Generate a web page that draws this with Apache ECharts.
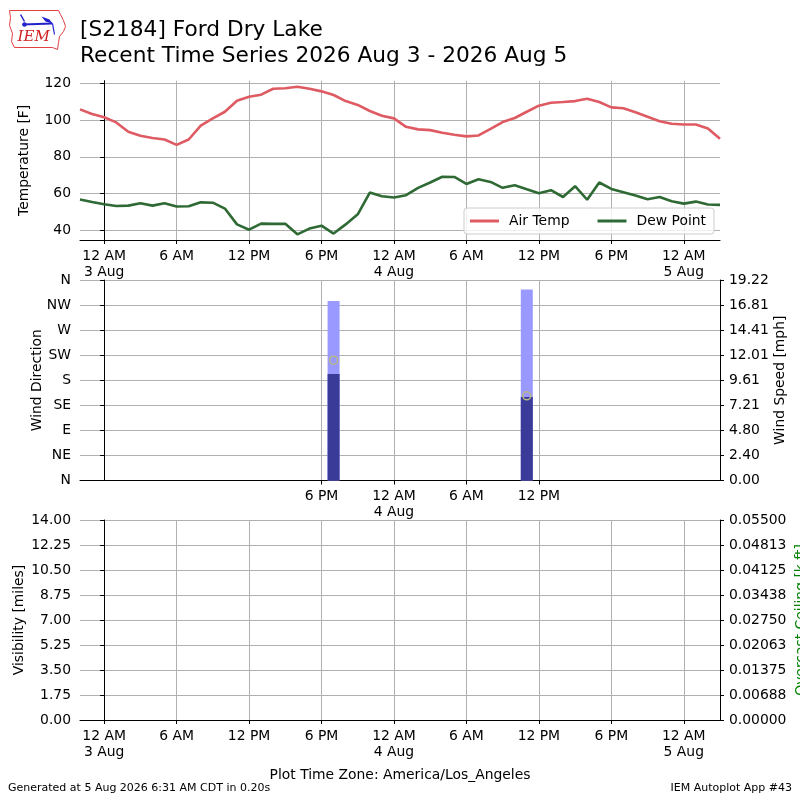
<!DOCTYPE html>
<html>
<head>
<meta charset="utf-8">
<script src="https://cdn.jsdelivr.net/npm/echarts@6/dist/echarts.min.js"></script>
<style>
html, body { margin: 0; padding: 0; background: #fff; }
#chart { width: 800px; height: 800px; }
</style>
</head>
<body>
<div id="chart"></div>
<script>
// hourly obs, first one at 2026-08-02 22:00 local (America/Los_Angeles)
var obsStart = '2026-08-02 22:00';
var tmpf = [105.8, 103.3,
	101.5, 98.7, 93.6, 91.4, 90.2, 89.4, 86.5, 89.4, 96.9, 100.9, 104.5, 110.5,
	112.7, 113.8, 117.0, 117.3, 118.1, 117.0, 115.6, 113.6, 110.3, 108.2, 104.9, 102.3,
	100.9, 96.3, 94.9, 94.5, 93.1, 92.0, 91.1, 91.6, 95.2, 98.9, 101.1, 104.5,
	107.8, 109.4, 109.8, 110.3, 111.6, 109.8, 106.9, 106.4, 104.2, 101.8, 99.3, 98.0,
	97.6, 97.6, 95.4, 89.8];
var dwpf = [56.7, 55.4,
	54.2, 53.2, 53.4, 54.7, 53.4, 54.7, 52.9, 53.1, 55.2, 55.0, 51.8, 43.2,
	40.3, 43.6, 43.5, 43.5, 37.8, 40.9, 42.5, 38.2, 43.2, 48.7, 60.5, 58.5,
	57.8, 59.1, 63.1, 66.0, 69.1, 69.0, 65.2, 67.8, 66.3, 63.1, 64.5, 62.3,
	60.2, 61.8, 58.1, 64.0, 56.6, 66.0, 62.5, 60.7, 58.9, 56.9, 58.1, 55.8,
	54.5, 55.6, 54.0, 53.8];

// wind obs
var windTimes = ['2026-08-03 19:00', '2026-08-04 11:00'];
var sped = [10.2, 8.0];
var gust = [17.2, 18.3];
var drct = [216, 152];

var dirLabels = ['N', 'NE', 'E', 'SE', 'S', 'SW', 'W', 'NW', 'N'];
var mainTicks = [0, 6, 12, 18, 24, 30, 36, 42, 48];
var windTicks = [18, 24, 30, 36];
var tempTicks = [40, 60, 80, 100, 120];

// hours since 2026-08-03 00:00
function toHours(s) {
	var p = s.split(/[- :]/);
	var t = Date.UTC(+p[0], +p[1] - 1, +p[2], +p[3], +p[4]);
	return (t - Date.UTC(2026, 7, 3)) / 3600000;
}

function timeLabel(v) {
	var h = Math.round(v);
	var hod = ((h % 24) + 24) % 24;
	var s = hod == 0 ? '12 AM' : (hod == 12 ? '12 PM' : (hod < 12 ? hod + ' AM' : (hod - 12) + ' PM'));
	if (hod == 0) {
		s += '\n' + (3 + Math.floor(h / 24)) + ' Aug';
	}
	return s;
}

var t0 = toHours(obsStart);
var tData = [], dData = [];
for (var i = 0; i < tmpf.length; i++) {
	tData.push([t0 + i, tmpf[i]]);
	dData.push([t0 + i, dwpf[i]]);
}
var gData = [], sData = [], drData = [];
for (var i = 0; i < windTimes.length; i++) {
	var h = toHours(windTimes[i]);
	gData.push([h, gust[i]]);
	sData.push([h, sped[i]]);
	drData.push([h, drct[i]]);
}

var FONT = 'DejaVu Sans';
var FS = 13.9;
var gridColor = '#b0b0b0';

function xAxisCfg(gridIndex, ticks, showGrid) {
	return {
		type: 'value', gridIndex: gridIndex, min: -2, max: 51,
		axisLine: { show: true, onZero: false, lineStyle: { color: '#000', width: 1 } },
		axisTick: { show: true, length: 4, customValues: ticks, lineStyle: { color: '#000' } },
		axisLabel: { customValues: ticks, formatter: timeLabel, color: '#000', fontFamily: FONT, fontSize: FS, margin: 8, lineHeight: 16 },
		splitLine: { show: showGrid, lineStyle: { color: gridColor, width: 1 } }
	};
}

function yAxisCfg(o) {
	var base = {
		type: 'value',
		axisLine: { show: true, lineStyle: { color: '#000', width: 1 } },
		axisTick: { show: true, length: 4, lineStyle: { color: '#000' } },
		axisLabel: { color: '#000', fontFamily: FONT, fontSize: FS, margin: 9 },
		splitLine: { show: true, lineStyle: { color: gridColor, width: 1 } },
		nameLocation: 'middle',
		nameRotate: 90,
		nameMoveOverlap: false,
		nameTextStyle: { color: '#000', fontFamily: FONT, fontSize: FS }
	};
	for (var k in o) {
		if (typeof o[k] == 'object' && base[k] && !Array.isArray(o[k])) {
			for (var kk in o[k]) base[k][kk] = o[k][kk];
		} else {
			base[k] = o[k];
		}
	}
	return base;
}

var myChart = echarts.init(document.getElementById('chart'));

var option = {
	backgroundColor: '#fff',
	animation: false,
	title: {
		text: '[S2184] Ford Dry Lake\nRecent Time Series 2026 Aug 3 - 2026 Aug 5',
		left: 75, top: 12,
		textStyle: { fontFamily: FONT, fontSize: 21.7, fontWeight: 'normal', color: '#000', lineHeight: 26 }
	},
	legend: {
		left: 464, top: 208,
		data: ['Air Temp', 'Dew Point'],
		icon: 'rect',
		itemWidth: 29, itemHeight: 3, itemGap: 28,
		padding: [6, 8, 6, 6],
		backgroundColor: 'rgba(255,255,255,0.8)',
		borderColor: '#cccccc', borderWidth: 1, borderRadius: 3,
		textStyle: { fontFamily: FONT, fontSize: FS, color: '#000', padding: [0, 0, 0, 5] }
	},
	grid: [
		{ left: 80, right: 80, top: 80.7, height: 159.3, outerBoundsMode: 'none' },
		{ left: 80, right: 80, top: 280, height: 200.5, outerBoundsMode: 'none' },
		{ left: 80, right: 80, top: 520, height: 200, outerBoundsMode: 'none' }
	],
	xAxis: [
		xAxisCfg(0, mainTicks, true),
		xAxisCfg(1, windTicks, true),
		xAxisCfg(2, mainTicks, true)
	],
	yAxis: [
		yAxisCfg({
			gridIndex: 0, min: 34.7, max: 121.4,
			name: 'Temperature [F]', nameGap: 49,
			axisTick: { customValues: tempTicks },
			axisLabel: { customValues: tempTicks }
		}),
		yAxisCfg({
			gridIndex: 1, min: 0, max: 360, interval: 45,
			name: 'Wind Direction', nameGap: 36,
			axisLabel: { formatter: function(v) { return dirLabels[Math.round(v / 45)]; } }
		}),
		yAxisCfg({
			gridIndex: 1, position: 'right', min: 0, max: 19.216, interval: 19.216 / 8,
			name: 'Wind Speed [mph]', nameGap: 53,
			splitLine: { show: false },
			axisLabel: { formatter: function(v) { return v.toFixed(2); } }
		}),
		yAxisCfg({
			gridIndex: 2, min: 0, max: 14, interval: 1.75,
			name: 'Visibility [miles]', nameGap: 54,
			axisLabel: { formatter: function(v) { return v.toFixed(2); } }
		}),
		yAxisCfg({
			gridIndex: 2, position: 'right', min: 0, max: 0.055, interval: 0.055 / 8,
			name: 'Overcast Ceiling [k ft]', nameGap: 74,
			nameTextStyle: { color: '#008000' },
			splitLine: { show: false },
			axisLabel: { formatter: function(v) { return (Math.round(v * 1e5 + 1e-6) / 1e5).toFixed(5); } }
		})
	],
	series: [
		{
			name: 'Air Temp', type: 'line', xAxisIndex: 0, yAxisIndex: 0,
			data: tData, symbol: 'none', z: 4,
			lineStyle: { color: '#df5b63', width: 2.6 }, itemStyle: { color: '#df5b63' }
		},
		{
			name: 'Dew Point', type: 'line', xAxisIndex: 0, yAxisIndex: 0,
			data: dData, symbol: 'none', z: 3,
			lineStyle: { color: '#2f6a35', width: 2.6 }, itemStyle: { color: '#2f6a35' }
		},
		{
			name: 'Gust', type: 'bar', xAxisIndex: 1, yAxisIndex: 2,
			data: gData, barWidth: 12, barGap: '-100%',
			itemStyle: { color: '#9999ff' }
		},
		{
			name: 'Speed', type: 'bar', xAxisIndex: 1, yAxisIndex: 2,
			data: sData, barWidth: 12, barGap: '-100%',
			itemStyle: { color: '#3a3a98' }
		},
		{
			name: 'Direction', type: 'scatter', xAxisIndex: 1, yAxisIndex: 1,
			data: drData, symbol: 'circle', symbolSize: 8, z: 5,
			itemStyle: { color: 'rgba(0,0,0,0)', borderColor: '#b8b882', borderWidth: 1.5, opacity: 1 }
		},
		{
			name: 'Visibility', type: 'line', xAxisIndex: 2, yAxisIndex: 3, data: []
		}
	],
	graphic: [
		{
			type: 'group', left: 7, top: 8,
			children: [
				{
					type: 'polygon',
					shape: { points: [[1, 2], [50, 2], [52, 6], [55, 12], [57, 18], [55, 23], [51, 28], [50, 34], [49, 41], [44, 39], [6, 39], [3, 33], [4, 25], [1, 17], [2, 9]] },
					style: { fill: 'none', stroke: '#e04040', lineWidth: 1 }
				},
				{ type: 'line', shape: { x1: 14, y1: 16, x2: 44, y2: 15 }, style: { stroke: '#2222cc', lineWidth: 2 } },
				{ type: 'line', shape: { x1: 12, y1: 6, x2: 16, y2: 13 }, style: { stroke: '#2222cc', lineWidth: 1.5 } },
				{ type: 'polygon', shape: { points: [[33, 8], [41, 11], [44, 15], [37, 13]] }, style: { fill: '#2222cc' } },
				{ type: 'circle', shape: { cx: 16, cy: 16, r: 2.2 }, style: { fill: '#2222cc' } },
				{ type: 'line', shape: { x1: 44, y1: 15, x2: 46, y2: 26 }, style: { stroke: '#2222cc', lineWidth: 1.2 } },
				{
					type: 'text', left: 9, top: 21,
					style: { text: 'IEM', fill: '#d02020', font: 'italic 15px "DejaVu Serif", serif' }
				}
			]
		},
		{
			type: 'text', left: 'center', top: 768,
			style: { text: 'Plot Time Zone: America/Los_Angeles', fill: '#000', font: FS + 'px "' + FONT + '"' }
		},
		{
			type: 'text', left: 8, top: 783,
			style: { text: 'Generated at 5 Aug 2026 6:31 AM CDT in 0.20s', fill: '#000', font: '11px "' + FONT + '"' }
		},
		{
			type: 'text', right: 8, top: 783,
			style: { text: 'IEM Autoplot App #43', fill: '#000', font: '11px "' + FONT + '"' }
		}
	]
};
myChart.setOption(option);
</script>
</body>
</html>
